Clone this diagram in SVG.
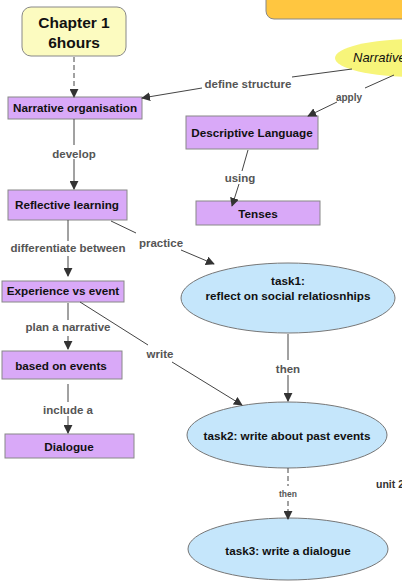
<svg xmlns="http://www.w3.org/2000/svg" width="402" height="581" viewBox="0 0 402 581">
<defs>
<marker id="ah" viewBox="0 0 10 10" refX="9" refY="5" markerWidth="9" markerHeight="9" markerUnits="userSpaceOnUse" orient="auto">
<path d="M0,0 L10,5 L0,10 z" fill="#333"/>
</marker>
<style>
.box{fill:#d9a9f8;stroke:#888;stroke-width:1}
.ell{fill:#c5e6fb;stroke:#777;stroke-width:1}
.t{font-family:"Liberation Sans",Arial,sans-serif;font-weight:bold;font-size:11.7px;fill:#111;text-anchor:middle}
.lb{font-family:"Liberation Sans",Arial,sans-serif;font-weight:bold;font-size:11.5px;fill:#555;text-anchor:middle}
.ln{fill:none;stroke:#444;stroke-width:1}
</style>
</defs>
<rect width="402" height="581" fill="#fff"/>

<g id="top-banner">
<rect x="266" y="-20" width="160" height="39" rx="8" fill="#ffc640" stroke="#888"/>
</g>

<g id="chapter1">
<rect x="22" y="7" width="104" height="49" rx="9" fill="#fcfbc0" stroke="#888"/>
<text class="t" x="74" y="28" style="font-size:15.5px">Chapter 1</text>
<text class="t" x="74" y="48" style="font-size:15.5px">6hours</text>
</g>

<g id="narrative">
<ellipse cx="415" cy="58" rx="80" ry="19" fill="#f7f57a"/>
<text x="353" y="62" font-family="'Liberation Sans',Arial,sans-serif" font-style="italic" font-size="13px" fill="#111">Narrative</text>
</g>

<g id="narrative-organisation">
<rect class="box" x="8" y="97" width="134" height="22"/>
<text class="t" x="75" y="112">Narrative organisation</text>
</g>

<g id="descriptive-language">
<rect class="box" x="186" y="116" width="132" height="33"/>
<text class="t" x="252" y="137">Descriptive Language</text>
</g>

<g id="tenses">
<rect class="box" x="196" y="201" width="124" height="24"/>
<text class="t" x="258" y="218">Tenses</text>
</g>

<g id="reflective-learning">
<rect class="box" x="8" y="190" width="119" height="30"/>
<text class="t" x="67" y="209">Reflective learning</text>
</g>

<g id="experience-vs-event">
<rect class="box" x="2" y="281" width="122" height="21"/>
<text class="t" x="63" y="295">Experience vs event</text>
</g>

<g id="based-on-events">
<rect class="box" x="2" y="351" width="120" height="28"/>
<text class="t" x="61" y="370">based on events</text>
</g>

<g id="dialogue">
<rect class="box" x="5" y="434" width="129" height="24"/>
<text class="t" x="69" y="451">Dialogue</text>
</g>

<g id="task1">
<ellipse class="ell" cx="288" cy="298" rx="107" ry="35"/>
<text class="t" x="288" y="285">task1:</text>
<text class="t" x="288" y="300">reflect on social relatiosnhips</text>
</g>

<g id="task2">
<ellipse class="ell" cx="287" cy="435" rx="100" ry="33"/>
<text class="t" x="287" y="440">task2: write about past events</text>
</g>

<g id="task3">
<ellipse class="ell" cx="288" cy="549" rx="100" ry="31"/>
<text class="t" x="288" y="555">task3: write a dialogue</text>
</g>

<g id="unit2">
<text x="376" y="488" font-family="'Liberation Sans',Arial,sans-serif" font-weight="bold" font-size="10.5px" fill="#333">unit 2</text>
</g>

<g id="connectors">
<path class="ln" d="M74,57 L74,97" stroke-dasharray="5,3" marker-end="url(#ah)"/>

<path class="ln" d="M352,69 L292,77"/>
<path class="ln" d="M202,88 L142,98" marker-end="url(#ah)"/>
<text class="lb" x="248" y="88">define structure</text>

<path class="ln" d="M394,75 L365,88"/>
<path class="ln" d="M337,102 L308,116" marker-end="url(#ah)"/>
<text class="lb" x="349" y="101" style="font-size:10px">apply</text>

<path class="ln" d="M248,150 L242,171"/>
<path class="ln" d="M239,184 L232,206" marker-end="url(#ah)"/>
<text class="lb" x="240" y="182">using</text>

<path class="ln" d="M74,119 L74,145"/>
<path class="ln" d="M74,159 L74,189" marker-end="url(#ah)"/>
<text class="lb" x="74" y="158">develop</text>

<path class="ln" d="M68,220 L68,241"/>
<path class="ln" d="M68,256 L68,276" marker-end="url(#ah)"/>
<text class="lb" x="68" y="252">differentiate between</text>

<path class="ln" d="M111,221 L136,233"/>
<path class="ln" d="M181,250 L214,264" marker-end="url(#ah)"/>
<text class="lb" x="161" y="247">practice</text>

<path class="ln" d="M288,334 L288,360"/>
<path class="ln" d="M288,375 L288,401" marker-end="url(#ah)"/>
<text class="lb" x="288" y="373">then</text>

<path class="ln" d="M68,303 L68,320"/>
<path class="ln" d="M68,336 L68,349" marker-end="url(#ah)"/>
<text class="lb" x="68" y="331">plan a narrative</text>

<path class="ln" d="M80,302 L148,345"/>
<path class="ln" d="M172,362 L242,405" marker-end="url(#ah)"/>
<text class="lb" x="160" y="358">write</text>

<path class="ln" d="M68,384 L68,402"/>
<path class="ln" d="M68,416 L68,433" marker-end="url(#ah)"/>
<text class="lb" x="68" y="414">include a</text>

<path class="ln" d="M288,468 L288,486" stroke-dasharray="5,3"/>
<path class="ln" d="M288,501 L288,519" stroke-dasharray="5,3" marker-end="url(#ah)"/>
<text class="lb" x="288" y="497" style="font-size:8.5px">then</text>
</g>
</svg>
